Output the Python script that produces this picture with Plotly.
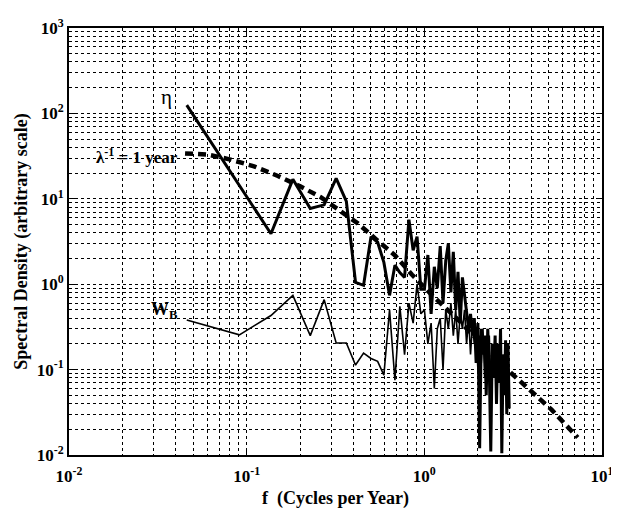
import plotly.graph_objects as go

freq = [0.046, 0.091, 0.137, 0.182, 0.228, 0.273, 0.319, 0.364, 0.410, 0.455,
        0.501, 0.546, 0.592, 0.637, 0.683, 0.728, 0.774, 0.819, 0.865, 0.910,
        0.956, 1.001, 1.047, 1.092, 1.138, 1.183, 1.229, 1.274, 1.320, 1.365,
        1.411, 1.456, 1.502, 1.547, 1.593, 1.638, 1.684, 1.729, 1.775, 1.820,
        1.866, 1.911, 1.957, 2.002, 2.048, 2.093, 2.139, 2.184, 2.230, 2.275,
        2.321, 2.366, 2.412, 2.457, 2.503, 2.548, 2.594, 2.639, 2.685, 2.730,
        2.776, 2.821, 2.867, 2.912, 2.958, 3.003]

eta = [125, 14, 3.9, 16.9, 7.7, 8.5, 17.3, 9.3, 1.05, 0.97,
       3.6, 3.1, 1.8, 0.74, 1.67, 1.37, 1.2, 5.7, 2.5, 3.6,
       0.87, 0.87, 2.2, 0.45, 1.6, 0.9, 2.8, 0.6, 1.9, 3.0,
       0.8, 2.4, 0.5, 1.4, 0.35, 1.2, 0.7, 0.5, 0.3, 0.45,
       0.25, 0.4, 0.12, 0.35, 0.012, 0.3, 0.15, 0.25, 0.05, 0.3,
       0.1, 0.011, 0.2, 0.08, 0.25, 0.04, 0.2, 0.07, 0.3, 0.0105,
       0.15, 0.05, 0.22, 0.03, 0.2, 0.035]

wb = [0.38, 0.255, 0.43, 0.74, 0.25, 0.66, 0.205, 0.205, 0.113, 0.156,
      0.135, 0.125, 0.086, 0.5, 0.075, 0.55, 0.15, 0.6, 0.35, 1.0,
      0.45, 0.5, 0.2, 0.35, 0.06, 0.3, 0.4, 0.1, 0.5, 0.3,
      0.6, 0.25, 0.5, 0.2, 0.45, 0.3, 0.5, 0.2, 0.4, 0.15,
      0.35, 0.2, 0.3, 0.1, 0.25, 0.12, 0.3, 0.08, 0.2, 0.15,
      0.25, 0.06, 0.2, 0.1, 0.18, 0.07, 0.15, 0.1, 0.2, 0.05,
      0.15, 0.1, 0.12, 0.06, 0.1, 0.04]

model_f = [0.045, 0.06, 0.08, 0.11, 0.15, 0.2, 0.26, 0.33, 0.42, 0.54,
           0.68, 0.85, 1.1, 1.6, 2.2, 3.1, 4.0, 5.2, 7.3]
model_v = [34, 33, 29, 24, 18.5, 14, 10.5, 7.5, 5.2, 3.3,
           2.2, 1.3, 0.75, 0.36, 0.18, 0.09, 0.055, 0.034, 0.016]

x_tickvals = [0.01, 0.1, 1, 10]
x_ticktext = ["<b>10<sup>-2</sup></b>", "<b>10<sup>-1</sup></b>",
              "<b>10<sup>0</sup></b>", "<b>10<sup>1</sup></b>"]
y_tickvals = [0.01, 0.1, 1, 10, 100, 1000]
y_ticktext = ["<b>10<sup>-2</sup></b>", "<b>10<sup>-1</sup></b>",
              "<b>10<sup>0</sup></b>", "<b>10<sup>1</sup></b>",
              "<b>10<sup>2</sup></b>", "<b>10<sup>3</sup></b>"]


def minor_grid(decades):
    return [m * d for d in decades for m in range(2, 10)]


x_minor = minor_grid([0.01, 0.1, 1])
y_minor = minor_grid([0.01, 0.1, 1, 10, 100])

serif = "Liberation Serif"

fig = go.Figure()
fig.add_trace(go.Scatter(x=freq, y=wb, mode="lines",
                         line=dict(color="black", width=1.6), showlegend=False))
fig.add_trace(go.Scatter(x=freq, y=eta, mode="lines",
                         line=dict(color="black", width=3), showlegend=False))
fig.add_trace(go.Scatter(x=model_f, y=model_v, mode="lines",
                         line=dict(color="black", width=4.5, dash="8px,5px"),
                         showlegend=False))

axis_common = dict(
    type="log", automargin=False, ticklabeloverflow="allow",
    showgrid=True, gridcolor="black", griddash="dot", gridwidth=1,
    showline=True, linecolor="black", linewidth=2, mirror="ticks",
    ticks="inside", ticklen=6, tickcolor="black",
    tickfont=dict(family=serif, size=17, color="black"),
    zeroline=False,
)
minor_common = dict(showgrid=True, gridcolor="black", griddash="dot",
                    gridwidth=1, tickmode="array", ticks="")

fig.update_xaxes(range=[-2, 1], tickvals=x_tickvals, ticktext=x_ticktext,
                 minor=dict(tickvals=x_minor, **minor_common),
                 ticklabelstandoff=5,
                 **axis_common,
                 title=dict(text="<b>f  (Cycles per Year)</b>",
                            font=dict(family=serif, size=18, color="black"),
                            standoff=6))
fig.update_yaxes(range=[-2, 3], tickvals=y_tickvals, ticktext=y_ticktext,
                 minor=dict(tickvals=y_minor, **minor_common),
                 **axis_common,
                 title=dict(text="<b>Spectral Density (arbitrary scale)</b>",
                            font=dict(family=serif, size=18, color="black"),
                            standoff=4))

fig.add_annotation(x=-1.45, y=2.19, text="η", showarrow=False,
                   font=dict(family=serif, size=21, color="black"))
fig.add_annotation(x=-1.62, y=1.50, text="<b>λ<sup>-1</sup> = 1 year</b>", showarrow=False,
                   font=dict(family=serif, size=17, color="black"))
fig.add_annotation(x=-1.46, y=-0.31, text="<b>W<sub>B</sub></b>", showarrow=False,
                   font=dict(family=serif, size=18, color="black"))

# page body has an 8px default margin; size the figure to fit the 619x509 window
fig.update_layout(
    width=611, height=501,
    margin=dict(l=61, r=17, t=20, b=54),
    paper_bgcolor="white", plot_bgcolor="white",
)

fig.write_html("out.html")
